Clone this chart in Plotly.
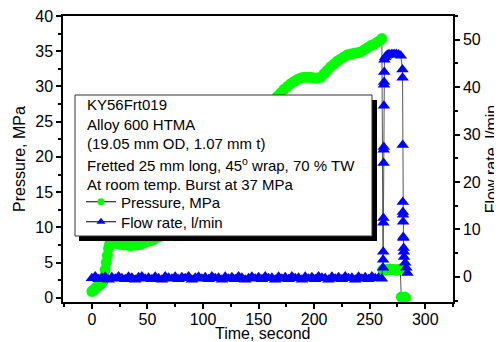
import plotly.graph_objects as go

# ---------------- data ----------------
time_p = [0, 1, 2, 3, 4, 5, 6, 7, 8, 9, 10, 11, 12, 13, 14, 15, 16, 17, 18,
          20, 23, 26, 29, 32, 35, 38, 41, 44, 47, 50, 53, 56,
          60, 65, 70, 75, 80, 85, 90, 95, 100, 105, 110, 115, 120, 125, 130,
          135, 140, 145, 150, 155, 160, 165,
          167, 170, 173, 176, 179, 182, 185, 188, 191, 194, 197, 200, 203, 206,
          209, 212, 215, 218, 221, 224, 227, 230, 233, 236, 239, 242, 245, 248,
          251, 254, 257, 260, 261,
          262, 264, 266, 268, 270, 272, 274, 276, 277.5,
          278.5, 280, 281.5, 282.5]
pressure = [0.9, 1.0, 1.2, 1.3, 1.5, 1.6, 1.7, 1.8, 2.0, 2.1, 2.3, 3.0, 4.0, 5.0, 6.0, 7.0, 7.6, 7.8, 7.8,
            7.8, 7.7, 7.6, 7.5, 7.5, 7.4, 7.5, 7.5, 7.6, 7.8, 8.0, 8.1, 8.3,
            8.6, 9.5, 10.5, 11.5, 12.5, 13.3, 14.0, 15.0, 16.0, 17.2, 18.3, 19.3, 20.2, 21.0, 22.0,
            23.0, 24.0, 25.0, 25.8, 26.6, 27.5, 28.2,
            28.6, 29.1, 29.6, 30.0, 30.4, 30.7, 31.0, 31.2, 31.3, 31.3, 31.3, 31.2, 31.2, 31.3,
            31.8, 32.3, 32.8, 33.2, 33.6, 33.9, 34.2, 34.5, 34.6, 34.7, 34.8, 34.9, 35.2, 35.5,
            35.8, 36.0, 36.3, 36.6, 36.8,
            4.0, 3.9, 4.0, 4.1, 4.0, 4.0, 3.9, 4.0, 4.1,
            0.1, 0.0, 0.1, 0.0]

time_f = [0, 3, 6, 9, 12, 15, 18, 21, 24, 27, 30, 33, 36, 39, 42, 45, 48, 51, 54, 57,
          60, 63, 66, 69, 72, 75, 78, 81, 84, 87, 90, 93, 96, 99, 102, 105, 108, 111, 114, 117,
          120, 123, 126, 129, 132, 135, 138, 141, 144, 147, 150, 153, 156, 159, 162, 165, 168, 171, 174, 177,
          180, 183, 186, 189, 192, 195, 198, 201, 204, 207, 210, 213, 216, 219, 222, 225, 228, 231, 234, 237,
          240, 243, 246, 249, 252, 255, 258, 261,
          262.0, 262.1, 262.2, 262.3, 262.4, 262.5, 262.6, 262.7, 262.8, 262.9, 263.0, 263.1, 263.3,
          264, 265, 266, 267, 268, 270, 272, 274, 276, 278,
          279.5, 279.6, 279.7, 279.8, 279.9, 280.0, 280.1, 280.2, 280.4, 280.6, 280.8, 281.0, 282.0, 283.0, 284.0]
flow = [-0.3, 0.1, -0.5, -0.2, 0.0, -0.6, -0.1, -0.4, 0.1, -0.3, -0.5, 0.0, -0.2, -0.6, -0.1, 0.1, -0.4, -0.2, -0.5, 0.0,
        -0.3, -0.6, 0.1, -0.2, -0.4, 0.0, -0.5, -0.1, -0.3, 0.1, -0.6, -0.2, 0.0, -0.4, -0.1, -0.5, 0.1, -0.3, -0.2, -0.6,
        0.0, -0.4, -0.1, -0.5, 0.1, -0.2, -0.6, -0.3, 0.0, -0.4, -0.1, -0.5, 0.1, -0.3, -0.2, -0.6, 0.0, -0.4, -0.1, -0.5,
        0.1, -0.3, -0.2, -0.6, 0.0, -0.4, -0.1, -0.5, 0.1, -0.2, -0.3, -0.6, 0.0, -0.4, -0.1, -0.5, 0.1, -0.3, -0.2, -0.6,
        0.0, -0.4, -0.1, -0.5, 0.1, -0.3, -0.2, -0.4,
        1.9, 3.6, 5.3, 11.4, 12.4, 24.0, 26.8, 27.4, 36.1, 40.5, 41.1, 43.2, 45.8,
        46.3, 46.6, 46.8, 46.9, 46.9, 47.0, 47.0, 47.0, 46.9, 46.6,
        43.7, 42.0, 27.8, 15.8, 13.7, 13.1, 11.6, 8.4, 8.2, 6.1, 5.3, 4.2, 3.0, 1.9, 0.8]

x_ticks = [0, 50, 100, 150, 200, 250, 300]
p_ticks = [0, 5, 10, 15, 20, 25, 30, 35, 40]
f_ticks = [0, 10, 20, 30, 40, 50]

info_lines = ["KY56Frt019",
              "Alloy 600 HTMA",
              "(19.05 mm OD, 1.07 mm t)",
              "Fretted 25 mm long, 45<sup>o</sup> wrap, 70 % TW",
              "At room temp. Burst at 37 MPa"]
name_p = "Pressure, MPa"
name_f = "Flow rate, l/min"
x_title = "Time, second"

# ---------------- style ----------------
GREEN = "#00FF00"
BLUE = "#0000FF"
LINEC = "#555555"
FONT = "Liberation Sans, Arial, sans-serif"

fig = go.Figure()
fig.add_trace(go.Scatter(x=time_p, y=pressure, mode="lines+markers", name=name_p,
                         line=dict(color=LINEC, width=1),
                         marker=dict(symbol="circle", size=11, color=GREEN, line=dict(width=0)),
                         showlegend=False, yaxis="y"))
fig.add_trace(go.Scatter(x=time_f, y=flow, mode="lines+markers", name=name_f,
                         line=dict(color=LINEC, width=1),
                         marker=dict(symbol="triangle-up", size=11, color=BLUE, line=dict(width=0)),
                         showlegend=False, yaxis="y2"))
# legend samples (no data)
fig.add_trace(go.Scatter(x=[None], y=[None], mode="lines+markers", name=name_p,
                         line=dict(color="black", width=1),
                         marker=dict(symbol="circle", size=7, color=GREEN),
                         legend="legend"))
fig.add_trace(go.Scatter(x=[None], y=[None], mode="lines+markers", name=name_f,
                         line=dict(color="black", width=1),
                         marker=dict(symbol="triangle-up", size=8, color=BLUE),
                         legend="legend2", yaxis="y2"))

# page has an 8px body margin: figure is 494x334 placed at (8, 8)
OFF = 8
FIG_W, FIG_H = 502 - OFF, 342 - OFF
# plot area in screen px: left 63, right 453, top 16, bottom 302
L, R, T, B = 63, 453, 16, 302
W, H = R - L, B - T
def px(xp):
    return (xp - L) / W
def py(yp):
    return (B - yp) / H

shapes = [
    dict(type="rect", xref="paper", yref="paper", x0=px(79), x1=px(377), y0=py(241), y1=py(100),
         fillcolor="black", line=dict(width=0), layer="above"),
    dict(type="rect", xref="paper", yref="paper", x0=px(75), x1=px(372), y0=py(236), y1=py(95),
         fillcolor="white", line=dict(color="#333333", width=1), layer="above"),
]

ann_y = [105, 124, 143, 164, 184]
annotations = []
for txt, yy in zip(info_lines, ann_y):
    annotations.append(dict(text=txt, xref="paper", yref="paper", x=px(85), y=py(yy),
                            xanchor="left", yanchor="middle", showarrow=False,
                            font=dict(family=FONT, size=15, color="black")))
annotations.append(dict(text=x_title, xref="paper", yref="paper", x=px(263), y=py(333.5),
                        xanchor="center", yanchor="middle", showarrow=False,
                        font=dict(family=FONT, size=16, color="black")))

axis_common = dict(showline=True, linecolor="black", linewidth=1.5, ticks="outside",
                   ticklen=5, tickwidth=1.5, tickcolor="black", showgrid=False, zeroline=False,
                   automargin=False, ticklabeloverflow="allow",
                   tickfont=dict(family=FONT, size=16, color="black"))

fig.update_layout(
    width=FIG_W, height=FIG_H,
    margin=dict(l=L - OFF, r=502 - R, t=T - OFF, b=342 - B),
    paper_bgcolor="white", plot_bgcolor="white",
    font=dict(family=FONT, size=16, color="black"),
    shapes=shapes, annotations=annotations,
    xaxis=dict(range=[-26, 325], tickvals=x_ticks, mirror=True, ticklabelstandoff=-3,
               minor=dict(dtick=25, tick0=0, ticks="outside", ticklen=3, tickwidth=1.5, tickcolor="black"),
               **axis_common),
    yaxis=dict(range=[-0.6, 40], tickvals=p_ticks,
               minor=dict(dtick=2.5, tick0=0, ticks="outside", ticklen=3, tickwidth=1.5, tickcolor="black"),
               title=dict(text=name_p, standoff=6, font=dict(family=FONT, size=16)),
               **axis_common),
    yaxis2=dict(range=[-5.3, 55], tickvals=f_ticks, overlaying="y", side="right",
                minor=dict(dtick=5, tick0=0, ticks="outside", ticklen=3, tickwidth=1.5, tickcolor="black"),
                title=dict(text=name_f, standoff=6, font=dict(family=FONT, size=16)),
                **axis_common),
    legend=dict(x=px(81), y=py(202), xanchor="left", yanchor="middle", bgcolor="rgba(0,0,0,0)",
                borderwidth=0, font=dict(family=FONT, size=15, color="black")),
    legend2=dict(x=px(81), y=py(222), xanchor="left", yanchor="middle", bgcolor="rgba(0,0,0,0)",
                 borderwidth=0, font=dict(family=FONT, size=15, color="black")),
)

fig.write_html("out.html")
